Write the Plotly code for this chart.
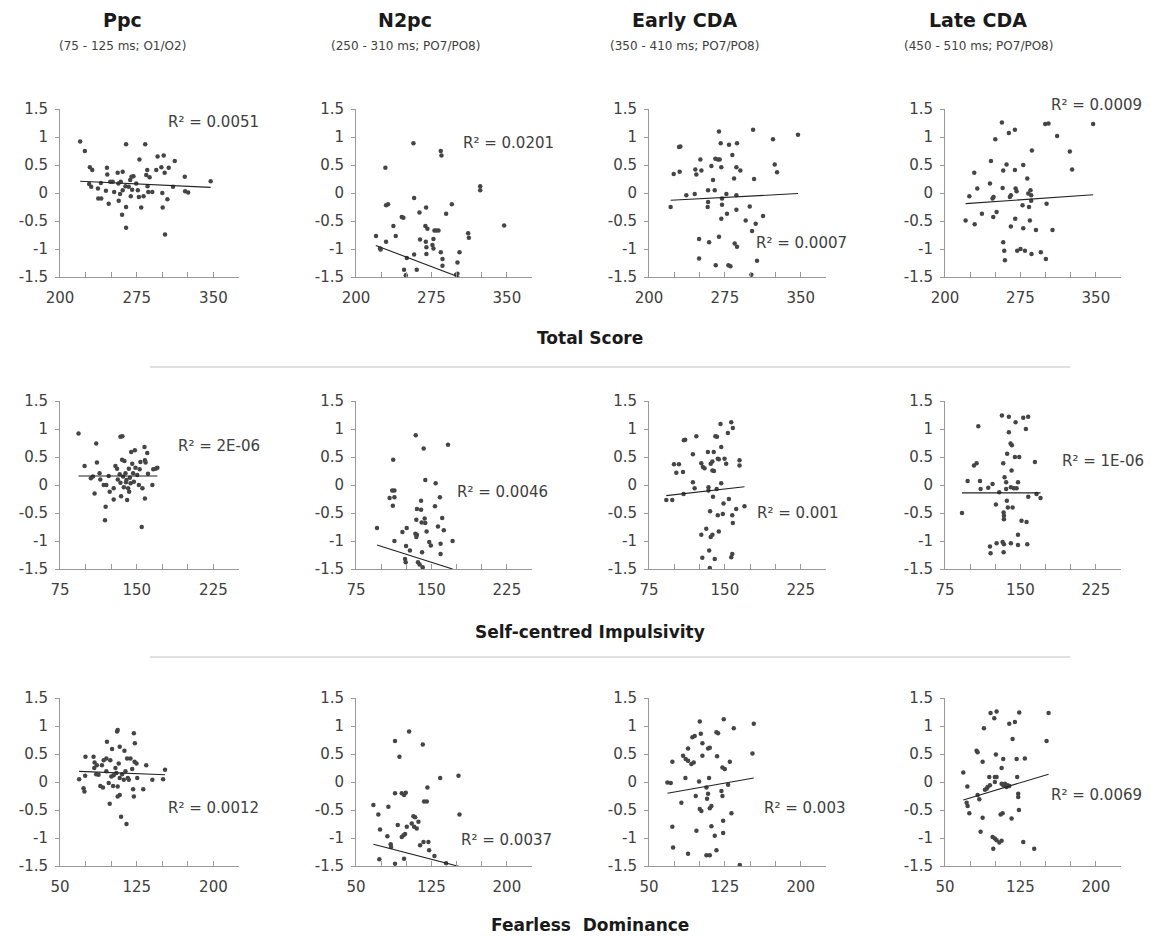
import plotly.graph_objects as go

# ---------------- data (x, y) per panel ----------------
# rows: x variable ; columns: ERP component (y)
row_names = ["Total Score", "Self-centred Impulsivity", "Fearless  Dominance"]
col_titles = ["Ppc", "N2pc", "Early CDA", "Late CDA"]
col_subtitles = ["(75 - 125 ms; O1/O2)", "(250 - 310 ms; PO7/PO8)",
                 "(350 - 410 ms; PO7/PO8)", "(450 - 510 ms; PO7/PO8)"]

x_ranges = [[200, 375], [75, 250], [50, 225]]
x_tickvals = [[200, 275, 350], [75, 150, 225], [50, 125, 200]]
y_tickvals = [1.5, 1, 0.5, 0, -0.5, -1, -1.5]
y_ticktext = ["1.5", "1", "0.5", "0", "-0.5", "-1", "-1.5"]

total_ppc = [(219.7,0.92),(224.3,0.75),(229.2,0.46),(231.5,0.41),(228.5,0.16),(230.5,0.11),(237.1,0.08),(237.4,-0.10),(240.3,-0.10),(245.9,0.45),
             (246.2,0.33),(249.2,0.20),(244.9,0.04),(247.6,-0.19),(251.5,0.20),(256.4,0.36),(257.1,0.17),(259.4,0.20),(261.3,0.38),(261.3,0.05),
             (257.4,-0.14),(258.7,-0.02),(260.7,-0.39),(264.6,0.87),(264.6,-0.25),(264.6,-0.62),(264.0,0.12),(267.2,0.11),(268.6,0.23),(269.9,0.29),
             (270.5,0.06),(269.2,-0.06),(271.8,0.30),(274.5,0.17),(276.1,0.05),(277.7,0.60),(277.1,-0.07),(279.4,-0.26),(281.7,-0.06),(283.3,0.87),
             (284.3,0.32),(285.3,0.41),(285.6,0.12),(286.3,0.02),(287.6,0.28),(290.2,0.02),(294.1,0.41),(295.4,0.65),(299.1,0.46),(300.0,0.00),
             (300.4,-0.26),(301.4,0.67),(302.3,0.36),(302.7,-0.74),(305.0,-0.11),(306.3,0.45),(310.5,0.11),(312.2,0.57),(322.0,0.29),(322.3,0.03),
             (325.3,0.01),(347.3,0.21),(240.0,0.18),(253.0,0.02)]
total_n2pc = [(219.9,-0.77),(223.9,-0.99),(224.5,-1.01),(229.2,0.45),(229.9,-0.22),(231.9,-0.20),(229.9,-0.87),(237.2,-0.59),(239.5,-0.77),(245.5,-0.43),
              (247.1,-0.44),(250.5,-1.16),(247.8,-1.37),(249.5,-1.47),(257.1,0.89),(257.8,-0.09),(257.8,-1.10),(260.4,-1.37),(263.1,-0.35),(263.7,-0.83),
              (269.7,-0.26),(269.0,-0.59),(271.0,-0.64),(269.4,-0.87),(270.0,-0.97),(270.0,-1.09),(278.0,-0.67),(279.7,-0.67),(282.0,-0.67),(277.0,-0.82),
              (276.0,-0.93),(277.0,-0.99),(284.3,0.75),(285.0,0.67),(284.3,-1.06),(286.0,-1.18),(286.0,-1.30),(289.6,-0.37),(295.3,-0.20),(300.9,-1.24),
              (302.9,-1.06),(300.9,-1.44),(299.5,-1.46),(311.5,-0.72),(312.2,-0.80),(323.5,0.12),(323.5,0.05),(347.3,-0.58)]
total_early = [(221.4,-0.25),(224.4,0.34),(229.7,0.82),(231.0,0.83),(230.3,0.38),(236.9,-0.04),(245.2,-0.02),(245.8,0.42),(246.8,0.33),(250.8,0.60),
               (251.8,0.40),(249.5,-0.82),(249.5,-1.17),(258.4,0.05),(258.0,-0.25),(258.4,-0.16),(259.4,-0.88),(261.7,0.48),(263.3,0.23),(265.0,0.05),
               (265.6,0.61),(268.2,0.60),(269.9,0.60),(266.0,-1.29),(269.2,1.10),(270.9,0.89),(271.5,0.46),(272.2,-0.10),(272.2,-0.21),(271.5,-0.46),
               (269.2,-0.78),(276.5,-0.02),(277.1,-0.37),(278.5,-1.29),(280.5,-1.31),(279.1,0.86),(282.4,0.68),(284.1,0.26),(284.7,-0.90),(287.0,-0.96),
               (286.4,0.46),(286.4,-0.04),(286.4,-0.30),(287.0,0.89),(290.3,0.40),(295.6,-0.49),(299.6,-0.24),(301.9,-0.68),(301.2,-1.46),(302.9,1.13),
               (303.9,0.25),(305.5,-0.55),(306.8,-1.21),(312.8,-0.41),(322.6,0.96),(324.3,0.51),(326.6,0.37),(347.3,1.04)]
total_late = [(220.5,-0.49),(224.2,-0.06),(229.1,0.36),(229.5,-0.56),(232.1,0.08),(236.7,-0.37),(244.7,0.17),(245.7,0.57),(247.3,-0.10),(248.3,-0.07),
              (248.0,-0.43),(251.3,-0.34),(250.0,0.96),(256.6,1.26),(257.3,0.09),(257.9,0.40),(257.9,-0.88),(258.9,-1.03),(259.6,-1.20),(261.2,0.51),
              (263.5,1.07),(264.5,-0.07),(265.5,-0.04),(265.5,-0.60),(269.5,1.13),(269.5,0.41),(270.2,0.08),(271.2,0.03),(269.8,-0.46),(271.8,-1.03),
              (275.1,-1.00),(279.5,-1.03),(277.1,-0.22),(277.8,0.50),(277.8,-0.63),(281.8,0.26),(282.8,-0.01),(283.5,-0.25),(284.4,-0.49),(285.0,0.05),
              (285.7,-0.04),(286.4,0.76),(286.0,-1.09),(290.4,-0.66),(295.3,-1.06),(299.6,1.23),(302.9,1.24),(301.0,-0.19),(300.3,-1.18),(306.9,-0.66),
              (311.5,1.02),(324.1,0.74),(326.4,0.42),(347.3,1.23),(285.7,-0.14)]

sci_ppc = [(93.1,0.92),(99.0,0.34),(110.4,0.74),(111.1,0.40),(105.2,0.12),(107.2,0.15),(108.8,-0.15),(113.7,0.21),(114.4,0.10),(117.7,0.00),
           (120.3,0.00),(119.6,-0.39),(119.0,-0.63),(122.6,0.16),(123.6,-0.12),(127.5,-0.26),(127.5,-0.06),(129.2,0.34),(130.8,0.29),(131.5,0.10),
           (134.1,0.86),(136.0,0.87),(133.4,0.19),(134.1,0.04),(134.7,-0.20),(135.7,0.45),(138.0,0.43),(136.7,0.15),(139.0,0.21),(137.4,-0.04),
           (140.0,0.09),(140.6,-0.27),(141.6,-0.06),(142.6,-0.12),(142.3,0.29),(143.3,0.13),(144.6,0.59),(145.6,0.38),(146.5,0.21),(147.2,0.06),
           (148.2,0.62),(148.8,0.31),(150.5,0.18),(152.1,0.00),(152.9,0.28),(153.6,0.41),(154.9,-0.75),(155.6,-0.06),(157.6,0.68),(158.0,0.44),
           (158.7,0.40),(158.0,-0.24),(160.3,0.57),(161.0,0.20),(165.3,0.00),(166.2,0.28),(168.5,0.29),(170.2,0.31),(139.5,0.05),(144.0,0.03)]
sci_n2pc = [(95.9,-0.77),(112.0,0.45),(111.0,-0.10),(113.2,-0.10),(108.4,-0.23),(113.2,-0.22),(111.6,-0.37),(113.2,-1.00),(121.2,-0.84),(125.4,-0.77),
            (124.8,-1.09),(123.8,-1.32),(124.4,-1.38),(128.6,-1.17),(134.4,0.89),(135.6,-0.43),(135.0,-0.62),(134.0,-0.87),(135.6,-0.89),(135.0,-0.93),
            (136.6,-1.38),(138.2,-1.42),(139.7,-0.28),(139.7,-0.44),(140.3,-0.67),(140.7,-1.20),(141.3,-1.47),(142.3,0.65),(143.9,0.09),(143.3,-0.60),
            (143.9,-0.68),(145.2,-0.83),(147.8,-1.02),(149.4,-1.08),(153.5,-0.38),(154.2,0.03),(156.5,-0.74),(158.4,-0.22),(159.1,-1.05),(159.1,-1.23),
            (160.7,-0.59),(162.3,-0.81),(166.5,0.72),(171.0,-1.00)]
sci_early = [(92.1,-0.27),(98.0,-0.27),(99.7,0.37),(104.6,0.37),(102.0,0.22),(109.5,0.80),(110.8,0.81),(108.6,0.23),(109.2,-0.16),(118.4,0.55),
             (118.4,0.05),(120.1,-0.06),(121.8,0.87),(126.7,0.39),(128.3,0.32),(129.9,0.30),(126.7,-0.89),(127.7,-1.30),(131.6,-0.78),(133.2,0.59),
             (133.8,-0.04),(133.8,-0.10),(134.5,-1.17),(135.1,-1.48),(135.4,-0.47),(136.0,-0.93),(137.7,-0.89),(136.0,0.38),(137.7,0.42),(137.7,0.26),
             (138.3,-0.21),(139.0,0.59),(139.3,0.25),(140.0,-1.32),(140.6,0.87),(142.2,0.86),(141.9,-0.07),(143.0,0.47),(144.0,0.46),(143.0,-0.54),
             (144.0,-0.83),(145.7,1.09),(146.4,0.68),(146.4,0.03),(148.7,-0.33),(148.0,-0.52),(149.7,0.47),(151.3,0.38),(153.0,0.93),(154.0,-0.25),
             (156.3,1.12),(157.9,1.02),(157.3,-0.54),(157.9,-0.68),(156.3,-1.29),(157.3,-1.23),(161.2,-0.43),(164.5,0.44),(164.5,0.35),(169.4,-0.38)]
sci_late = [(91.9,-0.50),(97.5,0.07),(103.8,0.35),(106.4,0.39),(108.1,1.05),(109.8,0.07),(110.4,-0.07),(118.0,-0.05),(122.3,0.02),(119.7,-1.10),
            (120.3,-1.22),(125.6,-0.35),(126.3,-1.04),(128.9,-0.13),(131.6,1.24),(132.9,0.39),(132.3,-1.02),(133.6,-1.06),(133.3,-0.49),(133.6,-0.55),
            (133.6,-0.61),(133.3,-1.20),(134.2,0.14),(135.8,0.05),(135.8,-0.07),(136.8,0.56),(136.5,-0.28),(137.5,-0.40),(138.5,1.22),(138.5,0.94),
            (140.5,-1.04),(140.2,0.74),(141.5,0.71),(140.5,-0.04),(141.2,0.26),(142.2,-0.40),(144.5,0.50),(148.8,0.50),(145.2,1.12),(143.5,-0.06),
            (146.2,-0.06),(147.6,0.05),(147.6,-0.89),(147.6,-1.07),(151.1,-0.64),(156.1,-0.66),(152.8,1.20),(157.7,1.22),(155.4,1.00),(156.8,-1.06),
            (157.8,-0.21),(164.4,0.41),(166.0,-0.16),(170.0,-0.23)]

fd_ppc = [(68.7,0.05),(73.0,-0.11),(73.9,-0.17),(74.6,0.11),(74.9,0.45),(82.8,0.45),(83.8,0.35),(83.5,0.25),(85.4,0.14),(87.7,0.13),
          (89.4,-0.07),(92.0,-0.10),(91.0,0.30),(92.7,0.39),(95.3,0.42),(95.9,0.72),(95.3,0.19),(97.6,-0.02),(98.6,-0.39),(99.2,0.39),
          (100.2,0.10),(100.9,0.59),(101.9,-0.07),(104.2,0.25),(105.1,0.16),(105.8,0.90),(106.4,0.93),(106.4,-0.08),(106.4,-0.26),(108.4,-0.23),
          (107.4,0.33),(108.4,0.63),(108.4,0.07),(109.7,-0.62),(110.7,0.14),(112.4,0.04),(113.0,0.56),(115.0,-0.75),(114.0,0.19),(116.3,0.07),
          (115.6,0.42),(118.9,0.42),(117.3,0.04),(120.6,0.23),(121.5,-0.13),(122.2,-0.26),(122.2,0.87),(123.2,0.69),(122.9,0.36),(124.8,0.33),
          (125.5,0.07),(131.4,-0.13),(134.3,0.30),(140.3,0.04),(150.8,0.05),(152.7,0.22),(86.0,0.30),(102.5,0.12)]
fd_n2pc = [(67.3,-0.41),(72.2,-0.58),(73.9,-0.85),(73.2,-1.38),(82.2,-0.44),(81.2,-0.97),(84.5,-1.11),(84.9,-1.16),(88.8,0.73),(88.8,-0.20),
           (88.8,-1.46),(91.5,-0.77),(93.2,0.45),(95.5,-0.20),(97.8,-0.23),(99.5,-0.19),(95.5,-0.98),(97.2,-0.95),(98.8,-0.93),(97.8,-1.37),
           (100.5,-0.80),(102.8,0.90),(105.4,-0.74),(107.8,-0.80),(107.1,-0.61),(108.8,-0.63),(110.4,-0.83),(112.1,-0.71),(113.7,-1.13),(117.1,-1.07),
           (117.7,-0.35),(120.4,-0.35),(116.4,0.67),(121.0,-0.10),(122.0,-1.07),(122.7,-1.22),(128.0,-1.32),(133.7,0.07),(151.9,0.11),(152.9,-0.58),
           (139.6,-1.45)]
fd_early = [(68.2,-0.01),(71.5,-0.02),(73.1,0.36),(73.1,-0.80),(73.8,-1.17),(82.0,-0.37),(86.0,0.07),(88.6,-1.28),(83.7,0.47),(86.3,0.41),
            (88.6,0.38),(88.6,0.60),(91.9,0.32),(94.2,0.35),(92.9,0.80),(95.2,0.82),(96.2,-0.25),(96.9,-0.87),(99.5,0.01),(100.2,1.08),
            (101.2,0.86),(102.8,0.69),(100.2,-0.48),(101.8,-0.52),(102.8,0.47),(106.8,-0.10),(108.4,-0.21),(107.4,-0.30),(106.8,-1.31),(110.1,-1.31),
            (108.4,0.60),(110.1,0.61),(109.4,0.07),(110.1,-0.47),(111.7,-0.43),(111.7,-0.79),(115.0,-0.96),(116.7,0.89),(118.3,0.87),(117.3,0.46),
            (116.7,-1.22),(121.6,-0.16),(122.6,-0.25),(122.6,0.26),(124.9,0.23),(123.3,-0.69),(123.3,-0.91),(123.9,1.12),(128.2,-0.05),(129.9,0.36),
            (131.5,-0.56),(133.8,0.96),(139.8,-1.48),(152.3,0.51),(153.6,1.04)]
fd_late = [(68.2,0.17),(72.2,-0.08),(71.5,-0.37),(72.5,-0.43),(74.2,-0.56),(81.4,0.56),(82.4,0.53),(82.4,-0.23),(84.1,-0.31),(85.4,-0.89),
           (87.4,0.36),(87.4,-0.64),(88.7,0.96),(89.7,-0.14),(91.4,-0.12),(92.4,-0.09),(94.0,0.09),(94.7,-0.06),(95.3,1.23),(101.3,1.26),
           (97.3,-0.98),(98.0,-1.19),(99.6,-1.01),(101.3,-1.04),(99.0,1.14),(99.6,0.09),(101.3,0.09),(99.6,0.00),(100.6,0.49),(104.0,-1.08),
           (106.3,-1.05),(105.3,-0.58),(107.3,-0.56),(106.3,0.25),(107.9,0.41),(106.3,-0.03),(107.9,-0.06),(109.6,-0.03),(111.2,-0.09),(112.2,-0.06),
           (113.9,-0.07),(113.9,1.04),(116.2,-0.65),(117.2,0.77),(119.5,1.07),(121.2,0.41),(121.8,0.09),(122.8,-0.21),(122.8,-0.27),(123.5,-0.50),
           (123.8,1.24),(127.8,-1.07),(129.4,0.42),(138.7,-1.19),(151.0,0.73),(153.0,1.23)]

panels = [[total_ppc, total_n2pc, total_early, total_late],
          [sci_ppc, sci_n2pc, sci_early, sci_late],
          [fd_ppc, fd_n2pc, fd_early, fd_late]]

# linear trend lines: (x start, y start, x end, y end) per panel
trend_lines = [[(219.7, 0.21, 347.3, 0.10), (219.7, -0.937, 347.3, -1.807), (221.4, -0.13, 347.3, -0.01), (220.5, -0.19, 347.3, -0.03)],
               [(93.1, 0.16, 170.2, 0.16), (95.9, -1.07, 171.0, -1.50), (92.1, -0.19, 169.4, -0.03), (91.9, -0.14, 170.0, -0.14)],
               [(68.7, 0.19, 152.7, 0.13), (67.3, -1.11, 152.9, -1.51), (68.2, -0.20, 153.6, 0.07), (68.2, -0.32, 153.0, 0.14)]]

r2_labels = [["R² = 0.0051", "R² = 0.0201", "R² = 0.0007", "R² = 0.0009"],
             ["R² = 2E-06", "R² = 0.0046", "R² = 0.001", "R² = 1E-06"],
             ["R² = 0.0012", "R² = 0.0037", "R² = 0.003", "R² = 0.0069"]]

# ---------------- layout geometry (pixels) ----------------
W, H = 1151, 937
col_px = [(60, 239), (356, 532), (649, 826), (945, 1121)]
row_px = [(109, 277), (401, 569), (698, 866)]
r2_pos = [[(166, 122), (461, 143), (754, 243), (1049, 105)],
          [(176, 446), (455, 492), (755, 513), (1060, 461)],
          [(166, 808), (459, 840), (762, 808), (1049, 795)]]

FONT = "DejaVu Sans"
TXT = "#404040"
AX = "#9a9a9a"
MARK = "#454545"

fig = go.Figure()
layout = dict(width=W, height=H, margin=dict(l=0, r=0, t=0, b=0, pad=0, autoexpand=False),
              plot_bgcolor="white", paper_bgcolor="white", showlegend=False,
              font=dict(family=FONT, color=TXT, size=15))
annotations = []
shapes = []

k = 0
for r in range(3):
    for c in range(4):
        k += 1
        xs = "" if k == 1 else str(k)
        pts = panels[r][c]
        fig.add_trace(go.Scatter(x=[p[0] for p in pts], y=[p[1] for p in pts], mode="markers",
                                 marker=dict(size=4.5, color=MARK), xaxis="x" + xs, yaxis="y" + xs,
                                 hoverinfo="skip"))
        t = trend_lines[r][c]
        fig.add_trace(go.Scatter(x=[t[0], t[2]], y=[t[1], t[3]], mode="lines",
                                 line=dict(color="#222222", width=1.1), xaxis="x" + xs, yaxis="y" + xs,
                                 hoverinfo="skip"))
        x0, x1 = col_px[c]
        yt, yb = row_px[r]
        layout["xaxis" + xs] = dict(domain=[x0 / W, x1 / W], range=x_ranges[r], anchor="y" + xs,
                                    tickmode="array", tickvals=x_tickvals[r], ticks="inside", ticklen=5,
                                    tickcolor=AX, showline=True, linecolor=AX, linewidth=1,
                                    showgrid=False, zeroline=False, fixedrange=True, automargin=False,
                                    ticklabelstandoff=7,
                                    minor=dict(dtick=25, tick0=x_ranges[r][0], ticks="inside", ticklen=5, tickcolor=AX, showgrid=False),
                                    tickfont=dict(family=FONT, size=15, color=TXT))
        layout["yaxis" + xs] = dict(domain=[1 - yb / H, 1 - yt / H], range=[-1.5, 1.5], anchor="x" + xs,
                                    tickmode="array", tickvals=y_tickvals, ticktext=y_ticktext,
                                    ticks="outside", ticklen=4, tickcolor=AX, showline=True, linecolor=AX,
                                    linewidth=1, showgrid=False, zeroline=False, fixedrange=True, automargin=False,
                                    ticklabelstandoff=4,
                                    tickfont=dict(family=FONT, size=15, color=TXT))
        px_, py_ = r2_pos[r][c]
        annotations.append(dict(text=r2_labels[r][c], x=px_ / W, y=1 - py_ / H, xref="paper", yref="paper",
                                xanchor="left", yanchor="middle", showarrow=False,
                                font=dict(family=FONT, size=15, color=TXT)))

# column titles
title_cx = [122, 405, 684, 978]
for c in range(4):
    annotations.append(dict(text="<b>" + col_titles[c] + "</b>", x=title_cx[c] / W, y=1 - 20 / H,
                            xref="paper", yref="paper", xanchor="center", yanchor="middle", showarrow=False,
                            font=dict(family=FONT, size=19, color="#1a1a1a")))
    annotations.append(dict(text=col_subtitles[c], x=title_cx[c] / W, y=1 - 46 / H,
                            xref="paper", yref="paper", xanchor="center", yanchor="middle", showarrow=False,
                            font=dict(family=FONT, size=12, color=TXT)))

# row labels + separators
row_label_y = [338, 632, 925]
for r in range(3):
    annotations.append(dict(text="<b>" + row_names[r] + "</b>", x=590 / W, y=1 - row_label_y[r] / H,
                            xref="paper", yref="paper", xanchor="center", yanchor="middle", showarrow=False,
                            font=dict(family=FONT, size=17, color="#1a1a1a")))
for ly in [367, 657]:
    shapes.append(dict(type="line", xref="paper", yref="paper", x0=150 / W, x1=1070 / W,
                       y0=1 - ly / H, y1=1 - ly / H, line=dict(color="#c0c0c0", width=1)))

layout["annotations"] = annotations
layout["shapes"] = shapes
fig.update_layout(**layout)
fig.write_html("out.html")
